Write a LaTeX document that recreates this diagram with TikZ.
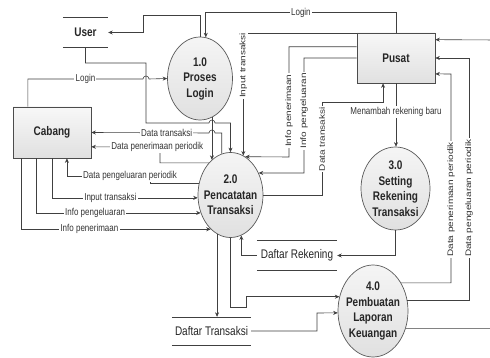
\documentclass[tikz,border=0pt]{standalone}
\usepackage{fontspec}
\setmainfont{Liberation Sans}
\newfontfamily\tallfont[FakeStretch=0.8]{Liberation Sans}
\newfontfamily\widefont[FakeStretch=1.25]{Liberation Sans}
\usetikzlibrary{arrows.meta,shapes.geometric}

\tikzset{
  plain/.style={draw=black!75, line width=0.6pt},
  flow/.style={plain, -{Stealth[length=4.5pt,width=4pt]}},
  proc/.style={ellipse, draw=black!65, line width=0.7pt, top color=black!4, bottom color=black!12,
    inner xsep=-10pt, inner ysep=0pt, align=center, text=black!85,
    font=\tallfont\bfseries\fontsize{12.5}{15.5}\selectfont},
  entity/.style={rectangle, draw=black!70, line width=0.7pt, top color=black!3, bottom color=black!12,
    minimum width=78pt, minimum height=50pt, text=black!85,
    font=\tallfont\bfseries\fontsize{12.5}{15}\selectfont},
  store/.style={inner sep=0pt, text=black!85, font=\tallfont\fontsize{12.5}{15}\selectfont},
  lbl/.style={fill=white, inner sep=1.2pt, text=black!80, font=\tallfont\fontsize{10}{11}\selectfont},
  vlbl/.style={lbl, rotate=90, font=\widefont\fontsize{8}{9}\selectfont},
}

\begin{document}
\begin{tikzpicture}[x=1pt, y=-1pt]
	\path[use as bounding box, fill=white] (0,0) rectangle (490,358);

	% entities, processes and stores
	\node[store, minimum width=45pt, minimum height=29pt, font=\tallfont\bfseries\fontsize{12.5}{15}\selectfont] (user) at (85.5,32.5) {User};
	\node[entity] (pusat) at (396,58) {Pusat};
	\node[entity, minimum height=51pt] (cabang) at (52,132.5) {Cabang};
	\node[proc, minimum width=65pt, minimum height=83pt] (p1) at (200,78.5) {1.0\\Proses\\Login};
	\node[proc, minimum width=65pt, minimum height=85pt] (p2) at (230.5,195) {2.0\\Pencatatan\\Transaksi};
	\node[proc, minimum width=69pt, minimum height=83pt] (p3) at (395.5,188.5) {3.0\\Setting\\Rekening\\Transaksi};
	\node[proc, minimum width=70pt, minimum height=92pt] (p4) at (373,311) {4.0\\Pembuatan\\Laporan\\Keuangan};
	\node[store, minimum width=80pt, minimum height=29pt] (rek) at (297,255.5) {Daftar Rekening};
	\node[store, minimum width=79pt, minimum height=28pt] (trx) at (211.5,331) {Daftar Transaksi};

	\draw[plain] (user.north west) -- (user.north east) (user.south west) -- (user.south east);
	\draw[plain] (rek.north west) -- (rek.north east) (rek.south west) -- (rek.south east);
	\draw[plain] (trx.north west) -- (trx.north east) (trx.south west) -- (trx.south east);

	% login
	\draw[flow] (p1.north) |- (143,15) |- (user.east);
	\draw[flow] (pusat.north) -- ++(0,-20) -| node[lbl, pos=0.25]{Login} (p1.82);
	\draw[flow] (cabang.133) |- node[lbl, pos=0.75]{Login} (143,79) arc (180:360:3) -- (p1.west);
	\draw[flow] (user.south) |- (146,63) -- (146,123) -- (209,123) arc (180:360:3) -| (p2.north);
	\draw[flow] (p1.-73) -- (p1.-73 |- p2.118);

	% cabang <-> 2.0
	\draw[flow] (p2.102) |- (215,133) arc (0:-180:3) -- node[lbl, pos=0.36]{Data transaksi} (cabang.east);
	\draw[flow] (p2.124) -| (160,147) -- node[lbl, pos=0.04]{Data penerimaan periodik} (cabang.-20);
	\draw[flow] (p2.159) -| (150,176) -| node[lbl, pos=0.12]{Data pengeluaran periodik} (cabang.-60);
	\draw[flow] (cabang.south) |- node[lbl, pos=0.7]{Input transaksi} (p2.185);
	\draw[flow] (cabang.-122) |- node[lbl, pos=0.68]{Info pengeluaran} (p2.211);
	\draw[flow] (cabang.-140) |- node[lbl, pos=0.68]{Info penerimaan} (p2.240);

	% pusat <-> 2.0
	\draw[flow] ([yshift=-1pt]pusat.north west) -| node[vlbl, pos=0.63]{Input transaksi} (p2.72);
	\draw[flow] (pusat.164) -| node[vlbl, pos=0.79]{Info penerimaan} (289,157) -- (p2.69);
	\draw[flow] (pusat.west) -| node[vlbl, pos=0.73]{Info pengeluaran} (304,173) -- (p2.38);
	\draw[flow] (p2.east) -| node[vlbl, pos=0.8]{Data transaksi} (322,102) -| (pusat.-117);

	% rekening
	\draw[flow] (pusat.south) -- node[lbl, pos=0.45]{Menambah rekening baru} (pusat.south |- p3.north);
	\draw[flow] (p3.south) |- (rek.east);
	\draw[flow] (rek.west) -| (p2.-75);

	% laporan
	\draw[flow] (p2.251) -- (p2.251 |- trx.north);
	\draw[flow] (p2.south) |- (246,307) |- (p4.157);
	\draw[flow] (trx.east) -| (317,313) -- (p4.183);
	\draw[flow] (p4.45) -| node[vlbl, pos=0.7]{Data penerimaan periodik} (451,74) -- (pusat.-22);
	\draw[flow] (p4.18) -| node[vlbl, pos=0.71]{Data pengeluaran periodik} (469,58) -- (pusat.east);
	\draw[flow] (p4.-28) -| (496,40) -- (pusat.25);
\end{tikzpicture}
\end{document}
